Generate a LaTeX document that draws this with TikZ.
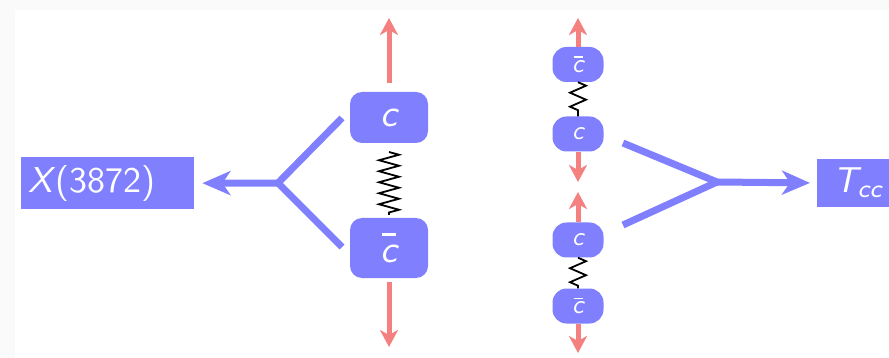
\documentclass[tikz,border=0pt]{standalone}
\usepackage{graphicx}
\usetikzlibrary{arrows.meta,decorations.pathmorphing}
\definecolor{boxblue}{RGB}{128,128,255}
\definecolor{arrred}{RGB}{245,128,128}
\definecolor{stripgray}{RGB}{250,250,250}
\newcommand\hadtxt[1]{\scalebox{3.6}{#1}}
\newcommand\qbigtxt[1]{\scalebox{3.8}{#1}}
\newcommand\qsmalltxt[1]{\scalebox{2.6}{#1}}
\newcommand\cbarsym[1]{c\llap{\raisebox{#1}{\rule{3.6pt}{0.55pt}}\hspace{0.35pt}}}
\begin{document}
\begin{tikzpicture}[x=1pt,y=-1pt,
  quarkbig/.style={fill=boxblue,rounded corners=12pt,minimum width=78pt,inner sep=0pt,
    text=white,font=\sffamily\slshape},
  quarksmall/.style={fill=boxblue,rounded corners=14pt,minimum width=51pt,minimum height=35pt,
    inner sep=0pt,text=white,font=\sffamily\slshape},
  hadron/.style={fill=boxblue,rectangle,minimum height=52pt,inner ysep=0pt,
    text=white,font=\sffamily},
  blueline/.style={draw=boxblue,line width=7pt},
  bluearrow/.style={blueline,-{Stealth[length=28pt,width=24pt,inset=8pt]}},
  redarrow/.style={draw=arrred,line width=5pt,-{Stealth[length=17pt,width=18pt,inset=5pt]}},
  springbig/.style={draw=black,line width=1.8pt,decorate,
    decoration={zigzag,amplitude=10pt,segment length=11pt}},
  springsmall/.style={draw=black,line width=1.8pt,decorate,
    decoration={zigzag,amplitude=8pt,segment length=14pt}}
]
\useasboundingbox (0,0) rectangle (889,358);
\clip (0,0) rectangle (889,358);
\fill[white] (0,0) rectangle (889,358);
\fill[stripgray] (0,0) rectangle (889,10);
\fill[stripgray] (0,0) rectangle (15,358);

% ---- left: X(3872)
\node[hadron,anchor=north west,text width=159pt,inner xsep=7pt,align=left] (xbox) at (21,157)
  {\hadtxt{{\slshape X}\kern1pt(3872)}};
\node[quarkbig,minimum height=51pt] (cL) at (389,117.5) {\qbigtxt{c}};
\node[quarkbig,minimum height=60pt] (cbL) at (389,248) {\qbigtxt{\cbarsym{7pt}}};

\coordinate (sL1) at (389,152);
\coordinate (sL2) at (389,215);
\draw[springbig] (sL1) -- (sL2);

\coordinate (tL) at (389,18);
\coordinate (bL) at (389,347);
\draw[redarrow,shorten <=9pt] (cL.north) -- (tL);
\draw[redarrow,shorten <=4pt] (cbL.south) -- (bL);

\coordinate (jL) at (278,183);
\coordinate (uL) at (342,118);
\coordinate (dL) at (342,247);
\draw[blueline] (jL) -- (uL);
\draw[blueline] (jL) -- (dL);
\draw[bluearrow,shorten >=8pt] (jL) -- (xbox.east);

% ---- right: T_cc
\node[quarksmall] (cb1) at (578,64.5) {\qsmalltxt{\cbarsym{5.6pt}}};
\node[quarksmall] (c1) at (578,134) {\qsmalltxt{c}};
\node[quarksmall] (c2) at (578,240) {\qsmalltxt{c}};
\node[quarksmall] (cb2) at (578,306) {\qsmalltxt{\cbarsym{5.6pt}}};

\draw[springsmall] (cb1.south) -- (c1.north);
\draw[springsmall] (c2.south) -- (cb2.north);

\coordinate (t1) at (578,18);
\coordinate (b1) at (578,182);
\coordinate (t2) at (578,192);
\coordinate (b2) at (578,353);
\draw[redarrow] (cb1.north) -- (t1);
\draw[redarrow] (c1.south) -- (b1);
\draw[redarrow] (c2.north) -- (t2);
\draw[redarrow] (cb2.south) -- (b2);

\node[hadron,anchor=west,minimum height=48pt,inner xsep=16pt,minimum width=90pt] (tbox) at (817,183)
  {\hadtxt{{\slshape T\raisebox{-1.5pt}{\fontsize{7}{8}\selectfont cc}}}\hspace*{20pt}};

\coordinate (jR) at (717,182);
\coordinate (uR) at (623,143);
\coordinate (dR) at (623,225);
\draw[blueline] (jR) -- (uR);
\draw[blueline] (jR) -- (dR);
\draw[bluearrow,shorten >=7pt] (jR) -- (tbox.west);
\end{tikzpicture}
\end{document}
